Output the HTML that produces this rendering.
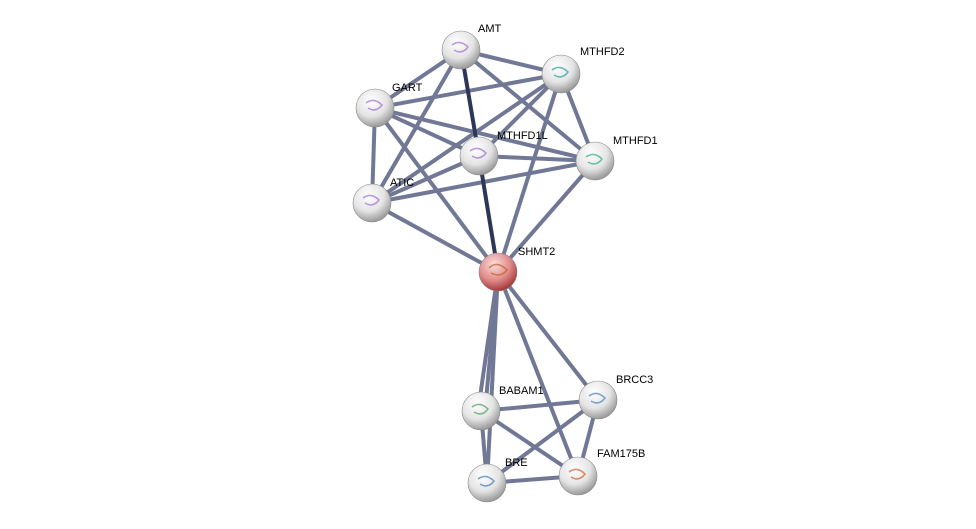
<!DOCTYPE html>
<html><head><meta charset="utf-8"><style>
html,body{margin:0;padding:0;background:#fff;width:976px;height:529px;overflow:hidden}
text{font-family:"Liberation Sans",sans-serif;font-size:11px;fill:#000}
</style></head><body>
<svg width="976" height="529" viewBox="0 0 976 529" xmlns="http://www.w3.org/2000/svg">
<defs>
<radialGradient id="g" cx="40%" cy="30%" r="70%">
<stop offset="0" stop-color="#ffffff"/><stop offset="0.6" stop-color="#e4e4e4"/><stop offset="1" stop-color="#9a9a9a"/>
</radialGradient>
<radialGradient id="r" cx="40%" cy="30%" r="70%">
<stop offset="0" stop-color="#fbdede"/><stop offset="0.6" stop-color="#e08a8a"/><stop offset="1" stop-color="#a53a3a"/>
</radialGradient>
</defs>
<g stroke="#6a7190" stroke-width="4" stroke-linecap="round" opacity="0.95">
<line x1="461" y1="50" x2="561" y2="74"/>
<line x1="461" y1="50" x2="375" y2="108"/>
<line x1="461" y1="50" x2="595" y2="161"/>
<line x1="461" y1="50" x2="372" y2="203"/>
<line x1="375" y1="108" x2="561" y2="74"/>
<line x1="375" y1="108" x2="479" y2="156"/>
<line x1="375" y1="108" x2="595" y2="161"/>
<line x1="375" y1="108" x2="372" y2="203"/>
<line x1="375" y1="108" x2="498" y2="272"/>
<line x1="561" y1="74" x2="595" y2="161"/>
<line x1="561" y1="74" x2="479" y2="156"/>
<line x1="561" y1="74" x2="372" y2="203"/>
<line x1="561" y1="74" x2="498" y2="272"/>
<line x1="479" y1="156" x2="595" y2="161"/>
<line x1="479" y1="156" x2="372" y2="203"/>
<line x1="595" y1="161" x2="372" y2="203"/>
<line x1="595" y1="161" x2="498" y2="272"/>
<line x1="372" y1="203" x2="498" y2="272"/>
<line x1="498" y1="272" x2="478" y2="411"/>
<line x1="498" y1="272" x2="485" y2="411"/>
<line x1="498" y1="272" x2="487" y2="483"/>
<line x1="498" y1="272" x2="598" y2="400"/>
<line x1="498" y1="272" x2="578" y2="476"/>
<line x1="481" y1="411" x2="598" y2="400"/>
<line x1="481" y1="411" x2="487" y2="483"/>
<line x1="481" y1="411" x2="578" y2="476"/>
<line x1="598" y1="400" x2="487" y2="483"/>
<line x1="598" y1="400" x2="578" y2="476"/>
<line x1="487" y1="483" x2="578" y2="476"/>
</g>
<g stroke="#2e3658" stroke-width="4" stroke-linecap="round">
<line x1="461" y1="50" x2="479" y2="156"/>
<line x1="479" y1="156" x2="498" y2="272"/>
</g>
<g stroke="#888" stroke-width="0.6">
<circle cx="461" cy="50" r="19" fill="url(#g)"/>
<circle cx="561" cy="74" r="19" fill="url(#g)"/>
<circle cx="375" cy="108" r="19" fill="url(#g)"/>
<circle cx="479" cy="156" r="19" fill="url(#g)"/>
<circle cx="595" cy="161" r="19" fill="url(#g)"/>
<circle cx="372" cy="203" r="19" fill="url(#g)"/>
<circle cx="498" cy="272" r="19" fill="url(#r)"/>
<circle cx="481" cy="411" r="19" fill="url(#g)"/>
<circle cx="598" cy="400" r="19" fill="url(#g)"/>
<circle cx="487" cy="483" r="19" fill="url(#g)"/>
<circle cx="578" cy="476" r="19" fill="url(#g)"/>
</g>
<g fill="none" stroke-width="1.5" opacity="0.7">
<path d="M452 45 q8 -6 16 2 q-6 8 -14 3" stroke="#a070d0"/>
<path d="M366 103 q8 -6 16 2 q-6 8 -14 3" stroke="#a070d0"/>
<path d="M470 151 q8 -6 16 2 q-6 8 -14 3" stroke="#a070d0"/>
<path d="M363 198 q8 -6 16 2 q-6 8 -14 3" stroke="#a070d0"/>
<path d="M552 70 q8 -6 16 2 q-6 8 -14 3" stroke="#30a0a0"/>
<path d="M586 157 q8 -6 16 2 q-6 8 -14 3" stroke="#30b080"/>
<path d="M489 268 q8 -8 18 2 q-6 8 -16 3" stroke="#c06020"/>
<path d="M472 407 q8 -6 16 2 q-6 8 -14 3" stroke="#50a060"/>
<path d="M589 396 q8 -6 16 2 q-6 8 -14 3" stroke="#5080c0"/>
<path d="M478 479 q8 -6 16 2 q-6 8 -14 3" stroke="#4080c0"/>
<path d="M569 472 q8 -6 16 2 q-6 8 -14 3" stroke="#d06030"/>
</g>
<text x="478" y="32">AMT</text>
<text x="580" y="55">MTHFD2</text>
<text x="392" y="91">GART</text>
<text x="497" y="139">MTHFD1L</text>
<text x="613" y="144">MTHFD1</text>
<text x="390" y="186">ATIC</text>
<text x="518" y="255">SHMT2</text>
<text x="499" y="394">BABAM1</text>
<text x="616" y="383">BRCC3</text>
<text x="505" y="466">BRE</text>
<text x="597" y="457">FAM175B</text>
</svg>
</body></html>
